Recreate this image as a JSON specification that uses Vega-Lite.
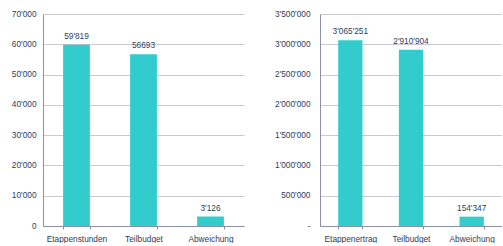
{
  "$schema": "https://vega.github.io/schema/vega-lite/v6.json",
  "padding": {"left": 11, "top": 9, "right": 0, "bottom": 0},
  "background": "white",
  "spacing": 30,
  "config": {
    "locale": {"number": {"decimal": ".", "thousands": "'", "grouping": [3], "currency": ["", ""]}},
    "view": {"stroke": null},
    "font": "Liberation Sans",
    "axis": {
      "labelFont": "Liberation Sans",
      "labelFontSize": 8.3,
      "labelColor": "#2e3d5a",
      "domainColor": "#8a90a6",
      "gridColor": "#c9c9d2",
      "tickColor": "#8a90a6",
      "title": null
    }
  },
  "hconcat": [
    {
      "width": 201,
      "height": 212,
      "data": {"values": [
        {"kategorie": "Etappenstunden", "wert": 59819, "beschriftung": "59'819"},
        {"kategorie": "Teilbudget", "wert": 56693, "beschriftung": "56693"},
        {"kategorie": "Abweichung", "wert": 3126, "beschriftung": "3'126"}
      ]},
      "encoding": {
        "x": {"field": "kategorie", "type": "nominal", "sort": null,
          "scale": {"paddingInner": 0.6, "paddingOuter": 0.3},
          "axis": {"labelAngle": 0, "tickBand": "extent", "tickSize": 3, "labelPadding": 5, "grid": false}},
        "y": {"field": "wert", "type": "quantitative",
          "scale": {"domain": [0, 70000], "nice": false},
          "axis": {"values": [0, 10000, 20000, 30000, 40000, 50000, 60000, 70000], "format": ",d", "ticks": false, "labelPadding": 7, "grid": true}}
      },
      "layer": [
        {"mark": {"type": "bar", "color": "#33cccc"}},
        {"mark": {"type": "text", "baseline": "bottom", "dy": -4, "fontSize": 8.3, "color": "#2e3d5a", "font": "Liberation Sans"},
         "encoding": {"text": {"field": "beschriftung"}}}
      ]
    },
    {
      "width": 182,
      "height": 212,
      "data": {"values": [
        {"kategorie": "Etappenertrag", "wert": 3065251, "beschriftung": "3'065'251"},
        {"kategorie": "Teilbudget", "wert": 2910904, "beschriftung": "2'910'904"},
        {"kategorie": "Abweichung", "wert": 154347, "beschriftung": "154'347"}
      ]},
      "encoding": {
        "x": {"field": "kategorie", "type": "nominal", "sort": null,
          "scale": {"paddingInner": 0.6, "paddingOuter": 0.3},
          "axis": {"labelAngle": 0, "tickBand": "extent", "tickSize": 3, "labelPadding": 5, "grid": false}},
        "y": {"field": "wert", "type": "quantitative",
          "scale": {"domain": [0, 3500000], "nice": false},
          "axis": {"values": [0, 500000, 1000000, 1500000, 2000000, 2500000, 3000000, 3500000], "format": ",d", "labelExpr": "datum.value == 0 ? '-' : datum.label", "ticks": false, "labelPadding": 10, "grid": true}}
      },
      "layer": [
        {"mark": {"type": "bar", "color": "#33cccc"}},
        {"mark": {"type": "text", "baseline": "bottom", "dy": -4, "fontSize": 8.3, "color": "#2e3d5a", "font": "Liberation Sans"},
         "encoding": {"text": {"field": "beschriftung"}}}
      ]
    }
  ]
}
